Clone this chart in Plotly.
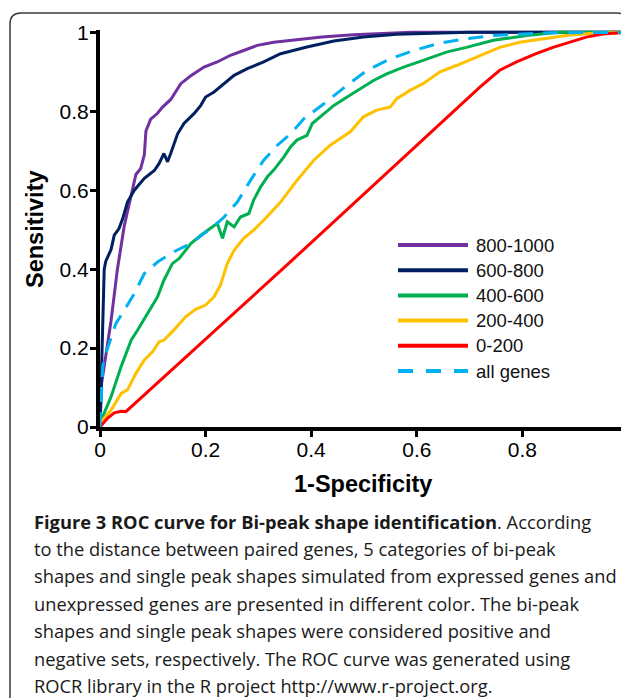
import plotly.graph_objects as go

# ---------------- data ----------------
series_names = ["800-1000", "600-800", "400-600", "200-400", "0-200", "all genes"]

x_800_1000 = [0, 0.003, 0.021, 0.033, 0.046, 0.059, 0.068, 0.077, 0.084, 0.087, 0.096, 0.109, 0.118,
              0.134, 0.153, 0.172, 0.197, 0.222, 0.247, 0.272, 0.298, 0.329, 0.361, 0.42, 0.48, 0.53,
              0.59, 0.7, 0.85, 1.0]
y_800_1000 = [0, 0.11, 0.27, 0.40, 0.51, 0.59, 0.64, 0.655, 0.69, 0.75, 0.78, 0.795, 0.81,
              0.83, 0.87, 0.89, 0.912, 0.925, 0.942, 0.954, 0.967, 0.975, 0.98, 0.988, 0.994, 0.997,
              1.0, 1.0, 1.0, 1.0]

x_600_800 = [0, 0.003, 0.005, 0.008, 0.011, 0.021, 0.027, 0.036, 0.043, 0.052, 0.065, 0.084, 0.103,
             0.112, 0.121, 0.128, 0.133, 0.14, 0.147, 0.159, 0.178, 0.191, 0.2, 0.216, 0.235, 0.254,
             0.279, 0.31, 0.342, 0.392, 0.443, 0.499, 0.562, 0.625, 0.7, 0.85, 1.0]
y_600_800 = [0, 0.15, 0.27, 0.40, 0.42, 0.45, 0.486, 0.503, 0.528, 0.57, 0.60, 0.63, 0.65,
             0.668, 0.693, 0.672, 0.69, 0.718, 0.743, 0.769, 0.794, 0.815, 0.836, 0.849, 0.87, 0.891,
             0.908, 0.925, 0.946, 0.963, 0.978, 0.988, 0.995, 0.998, 1.0, 1.0, 1.0]

x_400_600 = [0, 0.021, 0.04, 0.059, 0.071, 0.09, 0.109, 0.121, 0.137, 0.15, 0.172, 0.191, 0.21,
             0.222, 0.232, 0.241, 0.254, 0.266, 0.282, 0.291, 0.304, 0.317, 0.329, 0.348, 0.361,
             0.373, 0.392, 0.402, 0.417, 0.443, 0.468, 0.493, 0.518, 0.543, 0.575, 0.612, 0.656,
             0.694, 0.745, 0.808, 0.87, 1.0]
y_400_600 = [0.01, 0.077, 0.153, 0.22, 0.245, 0.288, 0.33, 0.372, 0.414, 0.427, 0.465, 0.486, 0.503,
             0.516, 0.478, 0.52, 0.507, 0.532, 0.541, 0.575, 0.608, 0.634, 0.651, 0.684, 0.71,
             0.727, 0.739, 0.769, 0.786, 0.815, 0.836, 0.857, 0.878, 0.895, 0.912, 0.929, 0.95,
             0.962, 0.98, 0.992, 1.0, 1.0]

x_200_400 = [0, 0.021, 0.04, 0.052, 0.068, 0.084, 0.1, 0.112, 0.121, 0.14, 0.162, 0.181, 0.2, 0.216,
             0.228, 0.241, 0.254, 0.272, 0.291, 0.31, 0.342, 0.373, 0.405, 0.436, 0.474, 0.499,
             0.524, 0.55, 0.562, 0.587, 0.612, 0.644, 0.675, 0.72, 0.757, 0.795, 0.839, 0.883,
             0.934, 1.0]
y_200_400 = [0.009, 0.043, 0.085, 0.094, 0.136, 0.17, 0.191, 0.216, 0.22, 0.246, 0.279, 0.298, 0.309,
             0.33, 0.359, 0.414, 0.448, 0.478, 0.499, 0.524, 0.57, 0.625, 0.676, 0.714, 0.748, 0.786,
             0.803, 0.811, 0.832, 0.853, 0.87, 0.9, 0.916, 0.942, 0.962, 0.975, 0.984, 0.992,
             0.998, 1.0]

x_0_200 = [0, 0.014, 0.027, 0.04, 0.049, 0.361, 0.72, 0.757, 0.789, 0.826, 0.858, 0.889, 0.921,
           0.952, 1.0]
y_0_200 = [0, 0.022, 0.036, 0.04, 0.039, 0.419, 0.862, 0.904, 0.925, 0.946, 0.962, 0.975, 0.988,
           0.996, 1.0]

x_all = [0, 0.002, 0.005, 0.011, 0.021, 0.03, 0.046, 0.065, 0.084, 0.109, 0.14, 0.172, 0.197, 0.222,
         0.235, 0.26, 0.285, 0.31, 0.336, 0.361, 0.386, 0.424, 0.468, 0.506, 0.55, 0.594, 0.644,
         0.694, 0.745, 0.795, 0.852, 1.0]
y_all = [0, 0.08, 0.153, 0.186, 0.229, 0.262, 0.296, 0.338, 0.389, 0.418, 0.444, 0.465, 0.49, 0.516,
         0.532, 0.57, 0.625, 0.676, 0.714, 0.743, 0.781, 0.819, 0.866, 0.904, 0.933, 0.954, 0.973,
         0.984, 0.992, 0.996, 0.999, 1.0]

tick_vals = [0, 0.2, 0.4, 0.6, 0.8, 1]
tick_text = ["0", "0.2", "0.4", "0.6", "0.8", "1"]

caption_lines = [
    "<b>Figure 3 ROC curve for Bi-peak shape identification</b>. According",
    "to the distance between paired genes, 5 categories of bi-peak",
    "shapes and single peak shapes simulated from expressed genes and",
    "unexpressed genes are presented in different color. The bi-peak",
    "shapes and single peak shapes were considered positive and",
    "negative sets, respectively. The ROC curve was generated using",
    "ROCR library in the R project http://www.r-project.org.",
]

# ---------------- styles ----------------
colors = ["#7030A0", "#002060", "#00B050", "#FFC000", "#FF0000", "#00B0F0"]
dashes = ["solid", "solid", "solid", "solid", "solid", "15px,10px"]
xs = [x_800_1000, x_600_800, x_400_600, x_200_400, x_0_200, x_all]
ys = [y_800_1000, y_600_800, y_400_600, y_200_400, y_0_200, y_all]

# The page body has an 8px margin: positions below are given in window pixels
# and converted to figure pixels by subtracting OFF.
OFF = 8
W, H = 629 - OFF, 698 - OFF
L, R, T, B = 92, 1, 22, 271
PW, PH = W - L - R, H - T - B
YMAX = 1.006


def px(xp):
    return (xp - OFF - L) / PW


def py(yp):
    return (H - B - (yp - OFF)) / PH


ARIAL = "Liberation Sans, Arial, sans-serif"
CAPF = "Open Sans, sans-serif"

fig = go.Figure()
for name, x, y, c, d in zip(series_names, xs, ys, colors, dashes):
    fig.add_trace(go.Scatter(x=x, y=y, mode="lines", name=name,
                             line=dict(color=c, width=3, dash=d), showlegend=False,
                             hoverinfo="skip"))

shapes = []
annotations = []

# rounded border of the figure panel
bx0, by0, bx1, by1, rad = 10, 13, 628, 760, 11
path = (f"M {px(bx0)},{py(by1)} L {px(bx0)},{py(by0 + rad)} "
        f"Q {px(bx0)},{py(by0)} {px(bx0 + rad)},{py(by0)} "
        f"L {px(bx1 - rad)},{py(by0)} Q {px(bx1)},{py(by0)} {px(bx1)},{py(by0 + rad)} "
        f"L {px(bx1)},{py(by1)}")
shapes.append(dict(type="path", xref="paper", yref="paper", path=path,
                   line=dict(color="#3a3a3a", width=1.5), layer="below"))

# manual legend
leg_x0, leg_x1, leg_y0, leg_dy = 398, 468, 245, 25.2
for i, (name, c, d) in enumerate(zip(series_names, colors, dashes)):
    yy = leg_y0 + i * leg_dy
    shapes.append(dict(type="line", xref="paper", yref="paper",
                       x0=px(leg_x0), x1=px(leg_x1), y0=py(yy), y1=py(yy),
                       line=dict(color=c, width=4, dash="15px,13px" if d != "solid" else "solid")))
    annotations.append(dict(xref="paper", yref="paper", x=px(474), y=py(yy), text=name,
                            showarrow=False, xanchor="left", yanchor="middle",
                            font=dict(family=ARIAL, size=18.5, color="#111111")))

# axis titles
annotations.append(dict(xref="paper", yref="paper", x=px(363), y=py(484), text="<b>1-Specificity</b>",
                        showarrow=False, xanchor="center", yanchor="middle",
                        font=dict(family=ARIAL, size=23.5, color="black")))
annotations.append(dict(xref="paper", yref="paper", x=px(35), y=py(229), text="<b>Sensitivity</b>",
                        showarrow=False, xanchor="center", yanchor="middle", textangle=-90,
                        font=dict(family=ARIAL, size=23.5, color="black")))

# caption
cap_y0, cap_dy = 521, 27.4
for i, line in enumerate(caption_lines):
    annotations.append(dict(xref="paper", yref="paper", x=px(32), y=py(cap_y0 + i * cap_dy),
                            text=line, showarrow=False, xanchor="left", yanchor="middle",
                            font=dict(family=CAPF, size=18.3, color="#1a1a1a")))

axis_common = dict(showgrid=False, zeroline=False, showline=True, linewidth=4, linecolor="black",
                   ticks="outside", ticklen=6, tickwidth=3, tickcolor="black",
                   tickvals=tick_vals, ticktext=tick_text,
                   tickfont=dict(family=ARIAL, size=21, color="black"), fixedrange=True)

fig.update_layout(
    width=W, height=H, margin=dict(l=L, r=R, t=T, b=B, pad=0),
    paper_bgcolor="white", plot_bgcolor="white",
    xaxis=dict(range=[0, 1], ticklabelstandoff=-5, **axis_common),
    yaxis=dict(range=[0, YMAX], ticklabelstandoff=-3, **axis_common),
    shapes=shapes, annotations=annotations, showlegend=False,
)

fig.write_html("out.html")
